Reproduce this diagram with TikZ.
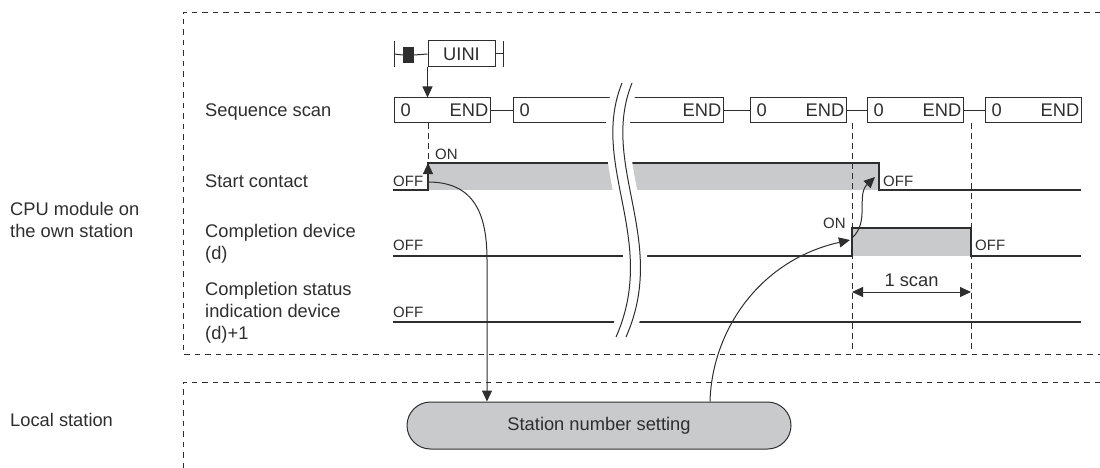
\documentclass[tikz,border=0pt]{standalone}
\usepackage{fontspec}
\setmainfont{Liberation Sans}
\usetikzlibrary{arrows.meta}
\definecolor{ln}{HTML}{2E2E2E}
\definecolor{fillg}{HTML}{C9CACC}
\begin{document}
\begin{tikzpicture}[x=1pt,y=-1pt,
  lbl/.style={font=\fontsize{18.3}{22}\selectfont, text=ln, inner sep=0pt, anchor=base west},
  sm/.style={font=\fontsize{15}{18}\selectfont, text=ln, inner sep=0pt, anchor=base west},
  sig/.style={draw=ln, line width=1.3pt},
  frame/.style={draw=ln, line width=0.9pt, dash pattern=on 5.5pt off 5pt},
  vdash/.style={draw=ln, line width=0.9pt, dash pattern=on 6pt off 4pt},
  tip/.style={-{Triangle[length=11pt,width=10pt]}},
  conn/.style={draw=ln, line width=1pt},
  seqbox/.style={draw=ln, line width=1pt, minimum height=25pt, inner sep=0pt},
]
\useasboundingbox (0,0) rectangle (1100,468);

% frames
\draw[frame] (1100,12) -- (183,12) -- (183,354) -- (1100,354);
\draw[frame] (1100,382) -- (183,382) -- (183,468);

% left labels
\node[lbl] (cpu1) at (10,215) {CPU module on};
\node[lbl] (cpu2) at (10,237) {the own station};
\node[lbl] (loc) at (10,426) {Local station};
\node[lbl] (seqlbl) at (205,117) {Sequence scan};
\node[lbl] (stlbl) at (205,187) {Start contact};
\node[lbl] (cd1) at (205,237) {Completion device};
\node[lbl] (cd2) at (205,259) {(d)};
\node[lbl] (cs1) at (205,295) {Completion status};
\node[lbl] (cs2) at (205,317) {indication device};
\node[lbl] (cs3) at (205,339) {(d)+1};

% UINI ladder
\draw[conn] (394,41) -- (394,67);
\node[fill=ln, minimum width=11pt, minimum height=16pt, inner sep=0pt] (ct) at (408.5,55) {};
\node[seqbox, minimum width=67pt, minimum height=26pt, font=\fontsize{18.3}{22}\selectfont, text=ln] (u) at (461.5,54) {UINI};
\draw[conn] (394,54) -- (ct.west);
\draw[conn] (ct.east) -- (u.west);
\draw[conn] (503,41) -- (503,67);
\draw[conn] (u.east) -- (503,54);

% sequence scan boxes
\node[seqbox, minimum width=96pt] (s1) at (442,110.5) {};
\node[seqbox, minimum width=210pt] (s2) at (618,110.5) {};
\node[seqbox, minimum width=96pt] (s3) at (798,110.5) {};
\node[seqbox, minimum width=96pt] (s4) at (915,110.5) {};
\node[seqbox, minimum width=96pt] (s5) at (1033,110.5) {};
\draw[conn] (s1.east) -- (s2.west);
\draw[conn] (s2.east) -- (s3.west);
\draw[conn] (s3.east) -- (s4.west);
\draw[conn] (s4.east) -- (s5.west);
\foreach \n/\l/\r in {a/394/490, b/513/723, c/750/846, d/867/963, e/985/1081}{
  \node[lbl] (z\n) at (\l+6.5,117) {0};
  \node[lbl, anchor=base east] (e\n) at (\r-1.5,117) {END};
}
\draw[conn, tip] (u.south west) -- (u.south west |- s1.north);
\draw[vdash] (428,123) -- (428,163);

% start contact
\fill[fillg] (428,163) rectangle (879,190);
\draw[sig] (393,190) -- (428,190) -- (428,163) -- (879,163) -- (879,190) -- (1081,190);
\draw[conn, tip] (428,186) -- (428,163);
\node[sm] (on1) at (435,160) {ON};
\node[sm] (off1) at (393,186) {OFF};
\node[sm] (off2) at (883,186) {OFF};

% completion device
\fill[fillg] (852,228) rectangle (971,256);
\draw[sig] (393,256) -- (852,256) -- (852,228) -- (971,228) -- (971,256) -- (1081,256);
\node[sm] (off3) at (393,250) {OFF};
\node[sm] (on2) at (823,228) {ON};
\node[sm] (off4) at (975,250) {OFF};

% completion status
\draw[sig] (393,322) -- (1081,322);
\node[sm] (off5) at (393,317) {OFF};

% dashed timing lines
\draw[vdash] (852,123) -- (852,352);
\draw[vdash] (971,123) -- (971,352);
\coordinate (sa) at (852,292);
\coordinate (sb) at (971,292);
\draw[conn, {Triangle[length=11pt,width=10pt]}-{Triangle[length=11pt,width=10pt]}] (sa) -- (sb);
\node[lbl, anchor=base] (scan) at (911.5,286) {1 scan};

% break
\draw[white, line width=24pt] (627,83) .. controls (594,165) and (664,240) .. (621,337);
\draw[ln, line width=1pt, xshift=-5pt] (627,83) .. controls (594,165) and (664,240) .. (621,337);
\draw[ln, line width=1pt, xshift=5pt] (627,83) .. controls (594,165) and (664,240) .. (621,337);

% station
\node[draw=ln, line width=1pt, fill=fillg, rounded corners=23.5pt, minimum width=384pt, minimum height=47pt, inner sep=0pt, font=\fontsize{18.3}{22}\selectfont, text=ln] (st) at (599,425.5) {Station number setting};

% connectors
\draw[conn, tip] (428,182) .. controls (475,182) and (487,215) .. (487,260) -- (487,0 |- st.north);
\draw[conn, tip] (st.north -| 710,0) .. controls (712,330) and (760,260) .. (850,240);
\draw[conn, tip] (852,238) .. controls (870,222) and (856,195) .. (875,177);
\end{tikzpicture}
\end{document}
